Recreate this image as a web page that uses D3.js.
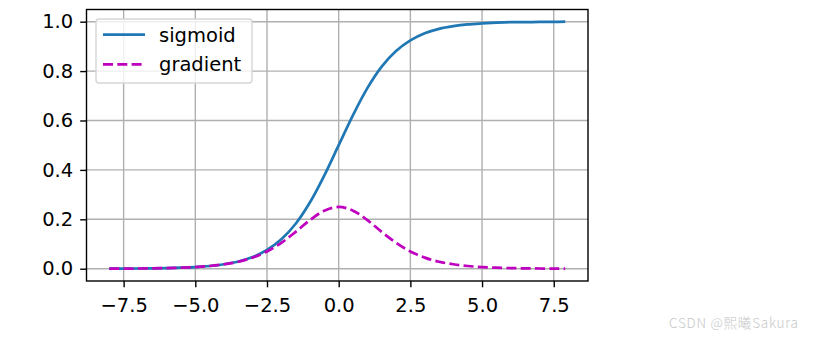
<!DOCTYPE html>
<html>
<head>
<meta charset="utf-8">
<script src="https://cdn.jsdelivr.net/npm/d3@7"></script>
<style>
  body { margin: 0; background: #fff; }
  text { font-family: "DejaVu Sans", sans-serif; }
</style>
</head>
<body>
<svg id="chart" width="814" height="339"></svg>
<script>
// values
var xValues = [-8, -7.5, -7, -6.5, -6, -5.5, -5, -4.5, -4, -3.5, -3, -2.5, -2, -1.5, -1, -0.5,
               0, 0.5, 1, 1.5, 2, 2.5, 3, 3.5, 4, 4.5, 5, 5.5, 6, 6.5, 7, 7.5, 7.9];
var sigmoidValues = [0.0003, 0.0006, 0.0009, 0.0015, 0.0025, 0.0041, 0.0067, 0.011, 0.018, 0.029,
                     0.047, 0.076, 0.119, 0.182, 0.269, 0.378, 0.5, 0.622, 0.731, 0.818, 0.881,
                     0.924, 0.953, 0.971, 0.982, 0.989, 0.993, 0.996, 0.998, 0.998, 0.999, 0.999, 1.0];
var gradientValues = [0.0003, 0.0006, 0.0009, 0.0015, 0.0025, 0.0041, 0.0066, 0.011, 0.018, 0.028,
                      0.045, 0.070, 0.105, 0.149, 0.197, 0.235, 0.25, 0.235, 0.197, 0.149, 0.105,
                      0.070, 0.045, 0.028, 0.018, 0.011, 0.0066, 0.0041, 0.0025, 0.0015, 0.0009, 0.0006, 0.0004];
var xTicks = [-7.5, -5.0, -2.5, 0.0, 2.5, 5.0, 7.5];
var yTicks = [0.0, 0.2, 0.4, 0.6, 0.8, 1.0];
var seriesNames = ["sigmoid", "gradient"];

var dims = {
  width: 814,
  height: 339,
  margin: { top: 9.5, left: 86.5, right: 226, bottom: 58 }
}
var plotW = dims.width - dims.margin.left - dims.margin.right
var plotH = dims.height - dims.margin.top - dims.margin.bottom

var svg = d3.select("#chart")

var x = d3.scaleLinear()
  .domain([-8.795, 8.695])
  .range([dims.margin.left, dims.margin.left + plotW])
var y = d3.scaleLinear()
  .domain([-0.0497, 1.0493])
  .range([dims.margin.top + plotH, dims.margin.top])

// grid
var grid = svg.append("g")
grid.selectAll(".gx").data(xTicks).enter().append("line")
  .attr("x1", d => x(d)).attr("x2", d => x(d))
  .attr("y1", y.range()[0]).attr("y2", y.range()[1])
  .attr("stroke", "#b0b0b0").attr("stroke-width", 1.4)
grid.selectAll(".gy").data(yTicks).enter().append("line")
  .attr("y1", d => y(d)).attr("y2", d => y(d))
  .attr("x1", x.range()[0]).attr("x2", x.range()[1])
  .attr("stroke", "#b0b0b0").attr("stroke-width", 1.4)

// axes
var xAxis = d3.axisBottom(x).tickValues(xTicks)
  .tickFormat(d => d3.format(".1f")(d).replace("-", "\u2212"))
  .tickSizeInner(6.3).tickSizeOuter(0).tickPadding(10.5)
var yAxis = d3.axisLeft(y).tickValues(yTicks)
  .tickFormat(d3.format(".1f"))
  .tickSizeInner(6.3).tickSizeOuter(0).tickPadding(7)

var gx = svg.append("g")
  .attr("transform", `translate(0,${dims.margin.top + plotH})`)
  .call(xAxis)
var gy = svg.append("g")
  .attr("transform", `translate(${dims.margin.left},0)`)
  .call(yAxis)
;[gx, gy].forEach(function(g) {
  g.select(".domain").remove()
  g.selectAll(".tick line").attr("stroke", "#000").attr("stroke-width", 1.4)
  g.selectAll(".tick text").attr("fill", "#000")
    .style("font-size", "19.5px").style("font-family", "DejaVu Sans")
})

// lines
var pts = name => xValues.map((v, i) => [v, name === "sigmoid" ? sigmoidValues[i] : gradientValues[i]])
var line = d3.line().x(d => x(d[0])).y(d => y(d[1])).curve(d3.curveCatmullRom)

svg.append("path").datum(pts("sigmoid"))
  .attr("d", line).attr("fill", "none")
  .attr("stroke", "#1f77b4").attr("stroke-width", 2.7)
svg.append("path").datum(pts("gradient"))
  .attr("d", line).attr("fill", "none")
  .attr("stroke", "#bf00bf").attr("stroke-width", 2.7)
  .attr("stroke-dasharray", "10,4.3")

// frame
svg.append("rect")
  .attr("x", dims.margin.left).attr("y", dims.margin.top)
  .attr("width", plotW).attr("height", plotH)
  .attr("fill", "none").attr("stroke", "#000").attr("stroke-width", 1.4)

// legend
var legend = svg.append("g")
legend.append("rect")
  .attr("x", 96).attr("y", 19).attr("width", 156).attr("height", 64)
  .attr("rx", 3).attr("fill", "#fff").attr("fill-opacity", 0.8)
  .attr("stroke", "#d6d6d6").attr("stroke-width", 1.4)
var legendItems = legend.selectAll(".item").data(seriesNames).enter().append("g")
  .attr("transform", (d, i) => `translate(103,${34.7 + i * 29.7})`)
legendItems.append("line")
  .attr("x1", 0).attr("x2", 42)
  .attr("stroke", d => d === "sigmoid" ? "#1f77b4" : "#bf00bf")
  .attr("stroke-width", 2.7)
  .attr("stroke-dasharray", d => d === "sigmoid" ? null : "10,4.3")
legendItems.append("text")
  .attr("x", 56).attr("dy", "0.35em")
  .style("font-size", "19.5px")
  .text(d => d)

// watermark
svg.append("text")
  .attr("x", 669).attr("y", 328)
  .attr("fill", "#c8c8c8")
  .attr("textLength", 129).attr("lengthAdjust", "spacing")
  .style("font-family", "'Noto Sans CJK SC', sans-serif")
  .style("font-size", "13.5px")
  .style("font-weight", 300)
  .text("CSDN @熙曦Sakura")
</script>
</body>
</html>
